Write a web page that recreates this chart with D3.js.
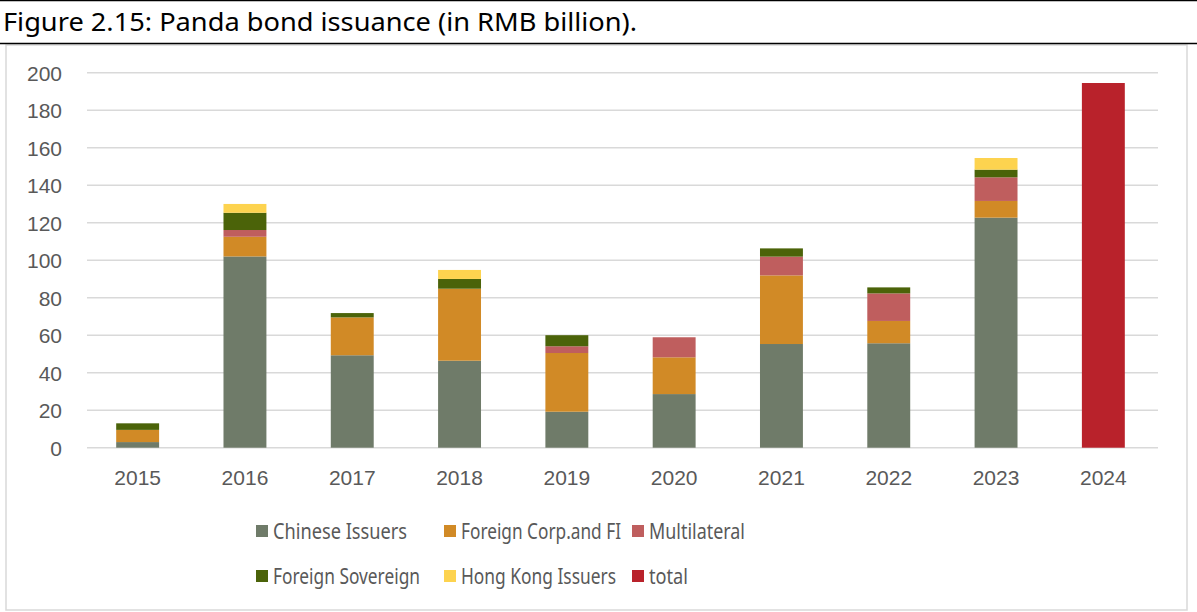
<!DOCTYPE html>
<html>
<head>
<meta charset="utf-8">
<script src="https://cdn.jsdelivr.net/npm/d3@7"></script>
<style>
  html, body { margin: 0; padding: 0; background: #fff; }
  svg { display: block; }
</style>
</head>
<body>
<svg id="chart" width="1197" height="612"></svg>
<script>
// Panda bond issuance by issuer type, RMB billion
const years = ["2015", "2016", "2017", "2018", "2019", "2020", "2021", "2022", "2023", "2024"];
const chineseIssuers   = [3,   102,  49.3, 46.4, 19.2, 28.6, 55.3, 55.7, 122.7, 0];
const foreignCorpFI    = [6.5, 10.5, 20.2, 38.4, 31.3, 19.6, 36.6, 11.9, 8.9,   0];
const multilateral     = [0,   3.6,  0,    0,    3.6,  10.7, 10,   14.7, 12.6,  0];
const foreignSovereign = [3.5, 9.2,  2.3,  5.2,  5.9,  0,    4.4,  3.2,  4.1,   0];
const hongKongIssuers  = [0,   4.7,  0,    4.8,  0,    0,    0,    0,    6.2,   0];
const total            = [0,   0,    0,    0,    0,    0,    0,    0,    0,     194.5];
const yTicks = [0, 20, 40, 60, 80, 100, 120, 140, 160, 180, 200];

const seriesNames = ["Chinese Issuers", "Foreign Corp.and FI", "Multilateral",
                     "Foreign Sovereign", "Hong Kong Issuers", "total"];
const seriesValues = [chineseIssuers, foreignCorpFI, multilateral,
                      foreignSovereign, hongKongIssuers, total];
const seriesColors = ["#6f7b69", "#d18a26", "#bf5e5e", "#4b6309", "#fdd34f", "#b9222b"];

const svg = d3.select("#chart");
const W = 1197, H = 612;

// Title band and frame
svg.append("line").attr("x1", 0).attr("x2", W).attr("y1", 0.5).attr("y2", 0.5)
  .attr("stroke", "#000").attr("stroke-width", 1.5);
svg.append("text").attr("x", 3).attr("y", 31)
  .attr("font-family", "'Noto Sans', sans-serif").attr("font-size", 26)
  .attr("textLength", 634).attr("lengthAdjust", "spacingAndGlyphs")
  .attr("fill", "#000")
  .text("Figure 2.15: Panda bond issuance (in RMB billion).");
svg.append("rect").attr("x", 6).attr("y", 45).attr("width", 1181).attr("height", 565)
  .attr("fill", "#fff").attr("stroke", "#d9d9d9").attr("stroke-width", 1.5);
svg.append("line").attr("x1", 0).attr("x2", W).attr("y1", 43.5).attr("y2", 43.5)
  .attr("stroke", "#000").attr("stroke-width", 1.5);

// Scales
const x = d3.scaleBand().domain(years).range([84, 1157]).paddingInner(0.6).paddingOuter(0.3);
const y = d3.scaleLinear().domain([0, 200]).range([447.7, 72.7]);

// Gridlines
svg.append("g").selectAll("line").data(yTicks).join("line")
  .attr("x1", 87).attr("x2", 1158)
  .attr("y1", d => y(d)).attr("y2", d => y(d))
  .attr("stroke", "#d9d9d9").attr("stroke-width", 1.5);

// Stacked bars
const table = years.map((yr, i) => {
  const row = { year: yr };
  seriesNames.forEach((n, k) => row[n] = seriesValues[k][i]);
  return row;
});
const stacked = d3.stack().keys(seriesNames)(table);
const color = d3.scaleOrdinal().domain(seriesNames).range(seriesColors);

svg.append("g").selectAll("g").data(stacked).join("g")
  .attr("fill", d => color(d.key))
  .selectAll("rect").data(d => d.filter(p => p[1] - p[0] > 0)).join("rect")
  .attr("x", d => x(d.data.year))
  .attr("width", x.bandwidth())
  .attr("y", d => y(d[1]))
  .attr("height", d => y(d[0]) - y(d[1]));

// Axes
const yAxis = svg.append("g").attr("transform", "translate(62,0)")
  .call(d3.axisLeft(y).tickValues(yTicks).tickSize(0).tickPadding(0));
yAxis.select(".domain").remove();
yAxis.selectAll("text").attr("font-family", "'Liberation Sans', Arial, sans-serif")
  .attr("font-size", 21).attr("fill", "#595959").attr("dy", "0.35em");

const xAxis = svg.append("g").attr("transform", "translate(0,448)")
  .call(d3.axisBottom(x).tickSize(0).tickPadding(0));
xAxis.select(".domain").remove();
xAxis.selectAll("text").attr("font-family", "'Liberation Sans', Arial, sans-serif")
  .attr("font-size", 21).attr("fill", "#595959").attr("dy", "0").attr("y", 37);

// Legend: two rows, three entries each, labels fitted to their slots
const legendPos = [[256, 531], [444, 531], [632, 531], [256, 576], [444, 576], [632, 576]];
const legendTextWidth = [134, 160, 96, 147, 155, 39];
const legend = svg.append("g").selectAll("g").data(seriesNames).join("g")
  .attr("transform", (d, i) => `translate(${legendPos[i][0]},${legendPos[i][1]})`);
legend.append("rect").attr("x", 0).attr("y", -6).attr("width", 12).attr("height", 12)
  .attr("fill", d => color(d));
legend.append("text").attr("x", 17).attr("y", 0).attr("dy", "0.35em")
  .attr("font-family", "'Noto Sans', sans-serif").attr("font-size", 21.5)
  .attr("textLength", (d, i) => legendTextWidth[i]).attr("lengthAdjust", "spacingAndGlyphs")
  .attr("fill", "#595959").text(d => d);
</script>
</body>
</html>
